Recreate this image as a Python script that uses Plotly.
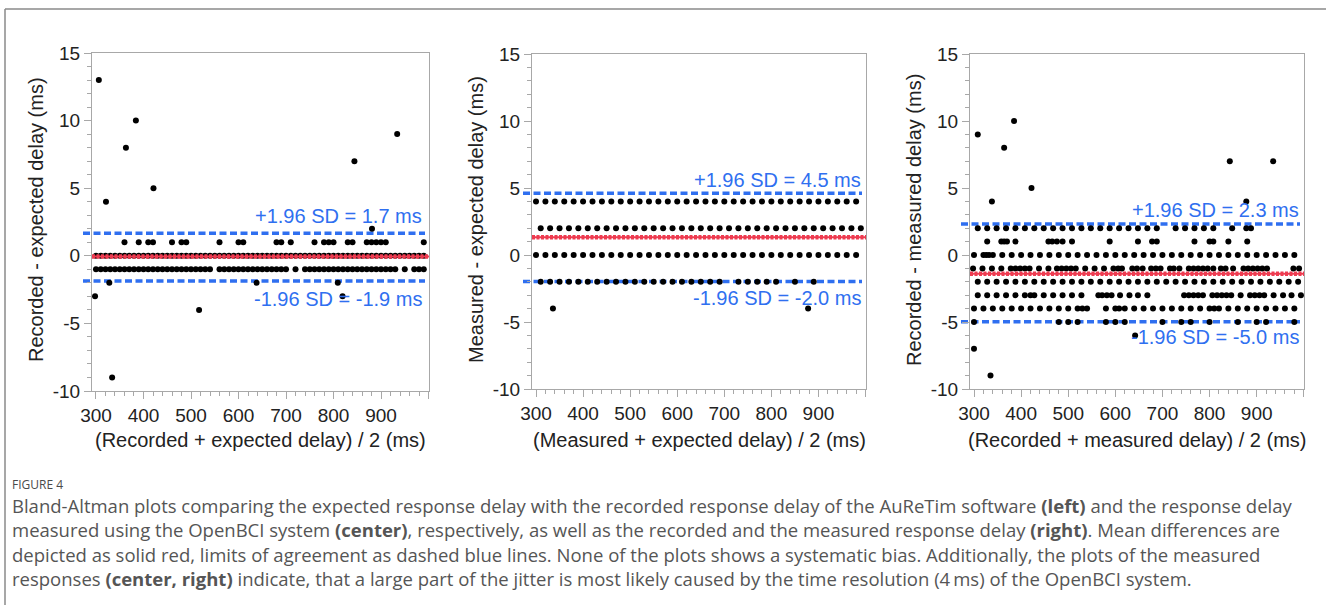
import plotly.graph_objects as go

W, H = 1326, 605

# ---------------- Panel 1: Recorded - expected ----------------
P1_ROW_0 = [300, 310, 320, 330, 340, 350, 360, 370, 380, 390, 400, 410, 420, 430, 440, 450, 460, 470, 480, 490,
            500, 510, 520, 530, 540, 550, 560, 570, 580, 590, 600, 610, 620, 630, 640, 650, 660, 670, 680, 690,
            700, 710, 720, 730, 740, 750, 760, 770, 780, 790, 800, 810, 820, 830, 840, 850, 860, 870, 880, 890,
            900, 910, 920, 930, 940, 950, 960, 970, 980, 990]
P1_ROW_M1 = [300, 310, 320, 330, 340, 350, 360, 370, 380, 390, 400, 410, 420, 430, 440, 450, 460, 470, 480, 490,
             500, 510, 520, 530, 540, 560, 570, 580, 590, 600, 610, 620, 630, 640, 650, 660, 670, 680, 690, 700,
             720, 740, 750, 760, 770, 780, 790, 800, 810, 820, 830, 840, 850, 860, 870, 880, 890, 900, 910, 920,
             930, 950, 970, 980, 990]
P1_ROW_1 = [360, 390, 410, 420, 460, 480, 490, 560, 600, 610, 680, 690, 710, 760, 780, 790, 800, 830, 840, 870,
            880, 890, 900, 910, 990]
P1_OUT_X = [306, 321, 334, 328, 298, 363, 384, 421, 517, 638, 809, 819, 844, 881, 934]
P1_OUT_Y = [13, 4, -9, -2, -3, 8, 10, 5, -4, -2, -2, -3, 7, 2, 9]
P1_MEAN, P1_UPPER, P1_LOWER = -0.06, 1.67, -1.86
P1_UP_TEXT, P1_LO_TEXT = "+1.96 SD = 1.7 ms", "-1.96 SD = -1.9 ms"

# ---------------- Panel 2: Measured - expected ----------------
P2_ROW_4 = [300, 320, 340, 360, 380, 400, 420, 440, 460, 480, 500, 520, 540, 560, 580, 600, 620, 640, 660, 680,
            700, 720, 740, 760, 780, 800, 820, 840, 860, 880, 900, 920, 940, 960, 980]
P2_ROW_2 = [310, 330, 350, 370, 390, 410, 430, 450, 470, 490, 510, 530, 550, 570, 590, 610, 630, 650, 670, 690,
            710, 730, 750, 770, 790, 810, 830, 850, 870, 890, 910, 930, 950, 970, 990]
P2_ROW_0 = [300, 320, 340, 360, 380, 400, 420, 440, 460, 480, 500, 520, 540, 560, 580, 600, 620, 640, 660, 680,
            700, 720, 740, 760, 780, 800, 820, 840, 860, 880, 900, 920, 940, 960, 980]
P2_ROW_M2 = [310, 330, 350, 370, 390, 410, 430, 450, 470, 490, 510, 530, 550, 570, 590, 610, 630, 650, 670, 690,
             730, 750, 770, 790, 810, 850, 890]
P2_OUT_X = [336, 878]
P2_OUT_Y = [-4, -4]
P2_MEAN, P2_UPPER, P2_LOWER = 1.32, 4.6, -1.97
P2_UP_TEXT, P2_LO_TEXT = "+1.96 SD = 4.5 ms", "-1.96 SD = -2.0 ms"

# ---------------- Panel 3: Recorded - measured ----------------
P3_ROW_2 = [308, 328, 348, 368, 388, 408, 428, 448, 468, 488, 508, 528, 548, 568, 588, 608, 628, 648, 668, 688,
            728, 748, 768, 788, 808, 848, 878, 888]
P3_ROW_1 = [328, 358, 364, 370, 388, 458, 466, 476, 488, 508, 588, 648, 678, 688, 768, 800, 808, 840, 880]
P3_ROW_0 = [300, 320, 326, 332, 340, 360, 380, 400, 420, 440, 460, 480, 500, 520, 540, 560, 580, 600, 620, 640,
            660, 680, 700, 720, 740, 760, 780, 800, 820, 840, 860, 880, 900, 920, 940, 960, 980]
P3_ROW_M1 = [298, 318, 338, 358, 378, 388, 398, 408, 418, 438, 458, 476, 486, 496, 506, 516, 536, 556, 576, 596,
             606, 614, 636, 646, 658, 676, 686, 696, 716, 724, 736, 756, 766, 776, 786, 796, 808, 824, 834, 850,
             872, 882, 892, 902, 912, 922, 978, 990]
P3_ROW_M2 = [308, 328, 348, 368, 388, 408, 428, 448, 468, 488, 508, 528, 548, 568, 588, 608, 628, 648, 668, 688,
             708, 728, 748, 768, 788, 808, 828, 848, 868, 888, 908, 928, 948, 968, 988]
P3_ROW_M3 = [308, 328, 348, 368, 388, 408, 420, 428, 448, 468, 488, 508, 528, 564, 572, 582, 592, 610, 630, 648,
             668, 746, 756, 766, 776, 786, 806, 816, 826, 836, 846, 866, 886, 896, 906, 916, 936, 956, 974, 994]
P3_ROW_M4 = [300, 320, 340, 360, 380, 400, 420, 440, 460, 480, 500, 520, 530, 540, 580, 600, 608, 620, 640, 660,
             680, 700, 720, 740, 760, 780, 800, 810, 820, 840, 860, 880, 900, 920, 940, 960, 980]
P3_ROW_M5 = [300, 480, 500, 520, 580, 600, 620, 700, 740, 760, 800, 860, 900, 920, 980]
P3_OUT_X = [308, 338, 364, 385, 422, 300, 335, 642, 843, 878, 935]
P3_OUT_Y = [9, 4, 8, 10, 5, -7, -9, -6, 7, 4, 7]
P3_MEAN, P3_UPPER, P3_LOWER = -1.39, 2.31, -4.98
P3_UP_TEXT, P3_LO_TEXT = "+1.96 SD = 2.3 ms", "-1.96 SD = -5.0 ms"

X_TITLES = ["(Recorded + expected delay) / 2 (ms)", "(Measured + expected delay) / 2 (ms)",
            "(Recorded + measured delay) / 2 (ms)"]
Y_TITLES = ["Recorded - expected delay (ms)", "Measured - expected delay (ms)", "Recorded - measured delay (ms)"]
X_TICKS = [300, 400, 500, 600, 700, 800, 900, 1000]
X_TICKTEXT = ["300", "400", "500", "600", "700", "800", "900", ""]
Y_TICKS = [-10, -5, 0, 5, 10, 15]
Y_TICKTEXT = ["-10", "-5", "0", "5", "10", "15"]

CAPTION_HEAD = "FIGURE 4"
CAPTION_LINES = [
    "Bland-Altman plots comparing the expected response delay with the recorded response delay of the AuReTim software <b>(left)</b> and the response delay",
    "measured using the OpenBCI system <b>(center)</b>, respectively, as well as the recorded and the measured response delay <b>(right)</b>. Mean differences are",
    "depicted as solid red, limits of agreement as dashed blue lines. None of the plots shows a systematic bias. Additionally, the plots of the measured",
    "responses <b>(center, right)</b> indicate, that a large part of the jitter is most likely caused by the time resolution (4\u2009ms) of the OpenBCI system.",
]

BLUE = "#2f6ff0"
RED = "#ee3b50"
AXCOL = "#a8a8a8"
FONT = "Liberation Sans, Arial, sans-serif"
CAPFONT = "Open Sans, sans-serif"

panels = [
    dict(rows=[(0, P1_ROW_0), (-1, P1_ROW_M1), (1, P1_ROW_1)], ox=P1_OUT_X, oy=P1_OUT_Y,
         mean=P1_MEAN, up=P1_UPPER, lo=P1_LOWER, upt=P1_UP_TEXT, lot=P1_LO_TEXT,
         px=(92, 429), py=(53, 391), xr=[291.6, 1001], upy=2.95, loy=-3.2, labx=990),
    dict(rows=[(4, P2_ROW_4), (2, P2_ROW_2), (0, P2_ROW_0), (-2, P2_ROW_M2)], ox=P2_OUT_X, oy=P2_OUT_Y,
         mean=P2_MEAN, up=P2_UPPER, lo=P2_LOWER, upt=P2_UP_TEXT, lot=P2_LO_TEXT,
         px=(532, 866), py=(54, 389), xr=[291.5, 1001], upy=5.62, loy=-3.2, labx=994),
    dict(rows=[(2, P3_ROW_2), (1, P3_ROW_1), (0, P3_ROW_0), (-1, P3_ROW_M1), (-2, P3_ROW_M2),
               (-3, P3_ROW_M3), (-4, P3_ROW_M4), (-5, P3_ROW_M5)], ox=P3_OUT_X, oy=P3_OUT_Y,
         mean=P3_MEAN, up=P3_UPPER, lo=P3_LOWER, upt=P3_UP_TEXT, lot=P3_LO_TEXT,
         px=(970, 1304), py=(54, 389), xr=[291.5, 1000.5], upy=3.33, loy=-6.1, labx=995),
]

fig = go.Figure()
shapes = []
annotations = []
layout_axes = {}

for i, p in enumerate(panels):
    n = "" if i == 0 else str(i + 1)
    xs, ys = [], []
    for yv, row in p["rows"]:
        xs += row
        ys += [yv] * len(row)
    xs += p["ox"]
    ys += p["oy"]
    fig.add_trace(go.Scatter(x=xs, y=ys, mode="markers", xaxis="x" + n, yaxis="y" + n,
                             marker=dict(color="black", size=6, line=dict(width=0)),
                             cliponaxis=False, hoverinfo="skip", showlegend=False))
    x0, x1 = p["px"]
    ytop, ybot = p["py"]
    layout_axes["xaxis" + n] = dict(
        domain=[x0 / W, x1 / W], range=p["xr"], anchor="y" + n, automargin=False,
        tickmode="array", tickvals=X_TICKS, ticktext=X_TICKTEXT,
        ticks="outside", ticklen=7, tickwidth=1, tickcolor=AXCOL,
        minor=dict(tick0=300, dtick=20, ticks="outside", ticklen=4, tickcolor=AXCOL, tickwidth=1),
        showline=True, linecolor=AXCOL, linewidth=1.2, mirror=True, showgrid=False, zeroline=False,
        tickfont=dict(family=FONT, size=19, color="#222222"),
    )
    layout_axes["yaxis" + n] = dict(
        domain=[1 - ybot / H, 1 - ytop / H], range=[-10, 15], anchor="x" + n, automargin=False,
        tickmode="array", tickvals=Y_TICKS, ticktext=Y_TICKTEXT,
        ticks="outside", ticklen=7, tickwidth=1, tickcolor=AXCOL,
        minor=dict(tick0=-10, dtick=1, ticks="outside", ticklen=4, tickcolor=AXCOL, tickwidth=1),
        showline=True, linecolor=AXCOL, linewidth=1.2, mirror=True, showgrid=False, zeroline=False,
        tickfont=dict(family=FONT, size=19, color="#222222"),
    )
    for yv in (p["up"], p["lo"]):
        shapes.append(dict(type="line", xref="paper", yref="y" + n, x0=(x0 - 9) / W, x1=(x1 - 4) / W,
                           y0=yv, y1=yv, line=dict(color=BLUE, width=3.5, dash="7px,3.5px"), layer="below"))
    shapes.append(dict(type="line", xref="paper", yref="y" + n, x0=x0 / W, x1=x1 / W,
                       y0=p["mean"], y1=p["mean"], line=dict(color=RED, width=2), layer="above"))
    shapes.append(dict(type="line", xref="paper", yref="y" + n, x0=x0 / W, x1=x1 / W,
                       y0=p["mean"], y1=p["mean"], line=dict(color=RED, width=4.5, dash="3px,1.5px"),
                       layer="above"))
    for txt, yv in ((p["upt"], p["upy"]), (p["lot"], p["loy"])):
        annotations.append(dict(text=txt, x=p["labx"], y=yv, xref="x" + n, yref="y" + n,
                                xanchor="right", yanchor="middle", showarrow=False,
                                font=dict(family=FONT, size=20, color=BLUE)))
    annotations.append(dict(text=X_TITLES[i], x=(x0 + x1) / 2 / W, y=1 - 440 / H,
                            xref="paper", yref="paper", xanchor="center", yanchor="middle", showarrow=False,
                            font=dict(family=FONT, size=20, color="#222222")))
    annotations.append(dict(text=Y_TITLES[i], x=(x0 - 56) / W, y=1 - 220 / H, textangle=-90,
                            xref="paper", yref="paper", xanchor="center", yanchor="middle", showarrow=False,
                            font=dict(family=FONT, size=20, color="#222222")))

annotations.append(dict(text=CAPTION_HEAD, x=10 / W, y=1 - 484 / H, xref="paper", yref="paper",
                        xanchor="left", yanchor="middle", showarrow=False,
                        font=dict(family=CAPFONT, size=12, color="#4a4a4a")))
for k, line in enumerate(CAPTION_LINES):
    annotations.append(dict(text=line, x=10 / W, y=1 - (505 + 24.5 * k) / H, xref="paper", yref="paper",
                            xanchor="left", yanchor="middle", showarrow=False,
                            font=dict(family=CAPFONT, size=18.5, color="#555555")))

shapes.append(dict(type="line", xref="paper", yref="paper", x0=5 / W, x1=1, y0=1 - 9 / H, y1=1 - 9 / H,
                   line=dict(color="#8a8a8a", width=1.5)))
shapes.append(dict(type="line", xref="paper", yref="paper", x0=5 / W, x1=5 / W, y0=0, y1=1 - 9 / H,
                   line=dict(color="#8a8a8a", width=1.5)))

fig.update_layout(width=W, height=H, margin=dict(l=0, r=0, t=0, b=0, pad=0, autoexpand=False),
                  paper_bgcolor="white", plot_bgcolor="rgba(0,0,0,0)", showlegend=False,
                  shapes=shapes, annotations=annotations, **layout_axes)

fig.write_html("out.html", config={"displayModeBar": False},
               post_script="document.body.style.margin='0px';document.body.style.overflow='hidden';")
